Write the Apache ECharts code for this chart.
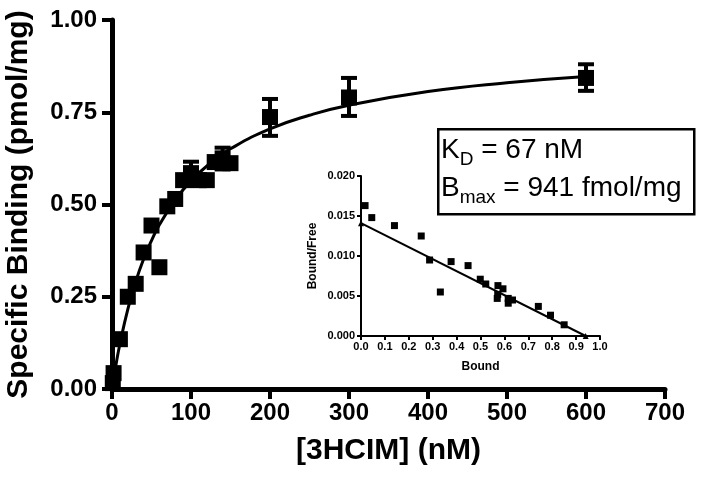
<!DOCTYPE html>
<html>
<head>
<meta charset="utf-8">
<script src="https://cdn.jsdelivr.net/npm/echarts@6/dist/echarts.min.js"></script>
<style>
  html, body { margin: 0; padding: 0; background: #fff; }
  #chart { width: 702px; height: 488px; }
</style>
</head>
<body>
<div id="chart"></div>
<script>
// saturation binding, mean points
const mainX = [1, 2, 10, 20, 30, 40, 50, 60, 70, 80, 90, 100, 110, 120, 130, 140, 150, 200, 300, 600]
const mainY = [0.016, 0.043, 0.135, 0.250, 0.285, 0.370, 0.443, 0.330, 0.495, 0.515, 0.566, 0.585, 0.566, 0.566, 0.615, 0.625, 0.612, 0.737, 0.790, 0.843]

// error bars (only where they show)
const errX = [100, 140, 200, 300, 600]
const errLow = [0.555, 0.595, 0.686, 0.740, 0.808]
const errHigh = [0.616, 0.654, 0.786, 0.843, 0.880]

// fitted curve
const curveX = [0, 5, 10, 20, 30, 40, 50, 60, 80, 100, 125, 150, 200, 250, 300, 400, 500, 600]
const curveY = [0, 0.065, 0.122, 0.216, 0.291, 0.352, 0.402, 0.445, 0.512, 0.564, 0.613, 0.651, 0.705, 0.742, 0.769, 0.806, 0.830, 0.847]

// inset: Scatchard plot
const scatB = [0.017, 0.045, 0.140, 0.252, 0.287, 0.332, 0.377, 0.448, 0.499, 0.522, 0.573, 0.594, 0.570, 0.572, 0.616, 0.616, 0.634, 0.742, 0.793, 0.850]
const scatBF = [0.0163, 0.0148, 0.0138, 0.0125, 0.0095, 0.0055, 0.0093, 0.0088, 0.0071, 0.0065, 0.0063, 0.0059, 0.0047, 0.0052, 0.0047, 0.0041, 0.0045, 0.0037, 0.0026, 0.0014]
const fitB = [0, 0.94]
const fitBF = [0.0141, 0]

const font = 'Liberation Sans, Arial, sans-serif'
const zip = (a, b) => a.map((v, i) => [v, b[i]])

const chart = echarts.init(document.getElementById('chart'), null, { renderer: 'canvas' })

const bigAxis = {
  axisLine: { show: true, onZero: false, lineStyle: { color: '#000', width: 5 } },
  axisTick: { show: true, length: 10, lineStyle: { color: '#000', width: 4 } },
  splitLine: { show: false },
  axisLabel: { color: '#000', fontFamily: font, fontWeight: 'bold', fontSize: 24 },
  nameTextStyle: { color: '#000', fontFamily: font, fontWeight: 'bold', fontSize: 30 }
}

const smallAxis = {
  axisLine: { show: true, onZero: false, lineStyle: { color: '#000', width: 2 } },
  axisTick: { show: true, length: 4, lineStyle: { color: '#000', width: 2 } },
  splitLine: { show: false },
  axisLabel: { color: '#000', fontFamily: font, fontWeight: 'bold', fontSize: 11, margin: 6 },
  nameTextStyle: { color: '#000', fontFamily: font, fontWeight: 'bold', fontSize: 12 }
}

const option = {
  backgroundColor: '#fff',
  animation: false,
  grid: [
    { left: 112, right: 37, top: 20, bottom: 99, containLabel: false, outerBoundsMode: 'none' },
    { left: 361, right: 102, top: 176, bottom: 152, containLabel: false, outerBoundsMode: 'none' }
  ],
  xAxis: [
    Object.assign({}, bigAxis, {
      gridIndex: 0, type: 'value', min: 0, max: 700, interval: 100,
      name: '[3HCIM] (nM)', nameLocation: 'middle', nameGap: 47,
      axisLabel: Object.assign({}, bigAxis.axisLabel, { margin: 12 })
    }),
    Object.assign({}, smallAxis, {
      gridIndex: 1, type: 'value', min: 0, max: 1, interval: 0.1,
      name: 'Bound', nameLocation: 'middle', nameGap: 25,
      axisLabel: Object.assign({}, smallAxis.axisLabel, { margin: 5, formatter: v => v.toFixed(1) })
    })
  ],
  yAxis: [
    Object.assign({}, bigAxis, {
      gridIndex: 0, type: 'value', min: 0, max: 1, interval: 0.25,
      name: 'Specific Binding (pmol/mg)', nameLocation: 'middle', nameGap: 78,
      axisLabel: Object.assign({}, bigAxis.axisLabel, { margin: 15, formatter: v => v.toFixed(2) })
    }),
    Object.assign({}, smallAxis, {
      gridIndex: 1, type: 'value', min: 0, max: 0.02, interval: 0.005,
      name: 'Bound/Free', nameLocation: 'middle', nameGap: 42,
      axisLabel: Object.assign({}, smallAxis.axisLabel, { formatter: v => v.toFixed(3) })
    })
  ],
  series: [
    {
      type: 'line', xAxisIndex: 0, yAxisIndex: 0,
      data: zip(curveX, curveY), smooth: true, showSymbol: false,
      lineStyle: { color: '#000', width: 3 }, z: 2
    },
    {
      type: 'custom', xAxisIndex: 0, yAxisIndex: 0,
      data: errX.map((x, i) => [x, errLow[i], errHigh[i]]),
      renderItem: (params, api) => {
        const lo = api.coord([api.value(0), api.value(1)])
        const hi = api.coord([api.value(0), api.value(2)])
        const w = 8
        const st = { stroke: '#000', lineWidth: 4 }
        return {
          type: 'group',
          children: [
            { type: 'line', shape: { x1: lo[0], y1: lo[1], x2: hi[0], y2: hi[1] }, style: st },
            { type: 'line', shape: { x1: hi[0] - w, y1: hi[1], x2: hi[0] + w, y2: hi[1] }, style: st },
            { type: 'line', shape: { x1: lo[0] - w, y1: lo[1], x2: lo[0] + w, y2: lo[1] }, style: st }
          ]
        }
      },
      z: 3
    },
    {
      type: 'scatter', xAxisIndex: 0, yAxisIndex: 0,
      data: zip(mainX, mainY), symbol: 'rect', symbolSize: 16,
      itemStyle: { color: '#000', opacity: 1 }, z: 4
    },
    {
      type: 'line', xAxisIndex: 1, yAxisIndex: 1,
      data: zip(fitB, fitBF), symbol: 'triangle', symbolSize: 6,
      itemStyle: { color: '#000', opacity: 1 },
      lineStyle: { color: '#000', width: 2 }, z: 2
    },
    {
      type: 'scatter', xAxisIndex: 1, yAxisIndex: 1,
      data: zip(scatB, scatBF), symbol: 'rect', symbolSize: 7,
      itemStyle: { color: '#000', opacity: 1 }, z: 3
    }
  ],
  graphic: [
    {
      type: 'rect', left: 437, top: 128,
      shape: { width: 256, height: 85 },
      style: { fill: '#fff', stroke: '#000', lineWidth: 2.5 }, z: 10
    },
    {
      type: 'text', left: 441, top: 136, z: 11,
      style: {
        text: '{m|K}{s|D}{m| = 67 nM}\n{m|B}{s|max}{m| = 941 fmol/mg}',
        fill: '#000',
        rich: {
          m: { fontFamily: font, fontSize: 28, lineHeight: 38, color: '#000' },
          s: { fontFamily: font, fontSize: 19, lineHeight: 20, color: '#000', verticalAlign: 'bottom' }
        }
      }
    }
  ]
}

chart.setOption(option)
</script>
</body>
</html>
